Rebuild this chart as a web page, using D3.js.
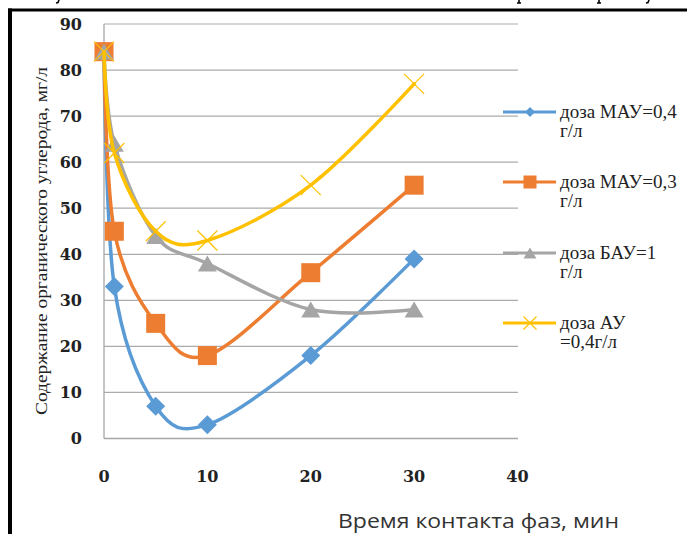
<!DOCTYPE html>
<html>
<head>
<meta charset="utf-8">
<script src="https://cdn.jsdelivr.net/npm/d3@7"></script>
<style>
  html, body { margin: 0; padding: 0; background: #fff; }
  svg { display: block; }
</style>
</head>
<body>
<svg id="chart" width="687" height="534"></svg>
<script>
// ---- data ----
const times = [0, 1, 5, 10, 20, 30];
const mau04 = [84, 33, 7, 3, 18, 39];
const mau03 = [84, 45, 25, 18, 36, 55];
const bau1  = [84, 64, 44, 38, 28, 28];
const au04  = [84, 62, 45, 43, 55, 77];
const legendLabels = [["доза МАУ=0,4", "г/л"], ["доза МАУ=0,3", "г/л"], ["доза БАУ=1", "г/л"], ["доза АУ", "=0,4г/л"]];
const yTicks = [0, 10, 20, 30, 40, 50, 60, 70, 80, 90];
const xTicks = [0, 10, 20, 30, 40];
const yTitle = "Содержание органического углерода, мг/л";
const xTitle = "Время контакта фаз, мин";

const seriesValues = [mau04, mau03, bau1, au04];
const colors = ["#5B9BD5", "#ED7D31", "#A5A5A5", "#FFC000"];
const markerTypes = ["diamond", "square", "triangle", "x"];

const svg = d3.select("#chart");
const x = d3.scaleLinear().domain([0, 40]).range([104, 517.5]);
const y = d3.scaleLinear().domain([0, 90]).range([438.5, 24]);

// clipped glyph descenders from the page above (drawn as small strokes)
const frag = svg.append("g").attr("stroke", "#000").attr("stroke-width", 1.6).attr("fill", "none");
[[58, "y"], [519, "p"], [599, "p"], [648, "y"]].forEach(d => {
  if (d[1] === "p") frag.append("path").attr("d", `M${d[0]},0L${d[0]},3M${d[0] - 2},3L${d[0] + 2},3`);
  else frag.append("path").attr("d", `M${d[0] + 1},0L${d[0]},2.5L${d[0] - 2},3`);
});

// frame borders
svg.append("line").attr("x1", 8).attr("x2", 687).attr("y1", 10).attr("y2", 10).attr("stroke", "#000").attr("stroke-width", 3);
svg.append("line").attr("x1", 10).attr("x2", 10).attr("y1", 8.5).attr("y2", 534).attr("stroke", "#000").attr("stroke-width", 4);

// gridlines
svg.append("g").selectAll("line").data(yTicks.filter(d => d > 0)).join("line")
  .attr("x1", x(0)).attr("x2", 518).attr("y1", d => y(d)).attr("y2", d => y(d))
  .attr("stroke", "#ABABAB").attr("stroke-width", 1.2);
// axes lines
svg.append("line").attr("x1", x(0)).attr("x2", 518).attr("y1", y(0)).attr("y2", y(0)).attr("stroke", "#A6A6A6").attr("stroke-width", 1.3);
svg.append("line").attr("x1", x(0)).attr("x2", x(0)).attr("y1", y(90)).attr("y2", y(0)).attr("stroke", "#A6A6A6").attr("stroke-width", 1.3);

// tick labels
const tickFont = "'DejaVu Serif', serif";
svg.append("g").selectAll("text").data(yTicks).join("text")
  .attr("x", 82).attr("y", d => y(d)).attr("dy", "0.36em").attr("text-anchor", "end")
  .attr("font-family", tickFont).attr("font-size", 16).attr("font-weight", "bold").attr("fill", "#222")
  .text(d => d);
svg.append("g").selectAll("text").data(xTicks).join("text")
  .attr("x", d => x(d)).attr("y", 482).attr("text-anchor", "middle")
  .attr("font-family", tickFont).attr("font-size", 16).attr("font-weight", "bold").attr("fill", "#222")
  .text(d => d);

// axis titles
svg.append("text").attr("transform", "translate(47,241) rotate(-90)").attr("text-anchor", "middle")
  .attr("font-family", "'Liberation Serif', serif").attr("font-size", 16).attr("fill", "#222")
  .attr("textLength", 348).attr("lengthAdjust", "spacingAndGlyphs")
  .text(yTitle);
svg.append("text").attr("x", 338).attr("y", 528)
  .attr("font-family", "'Open Sans', sans-serif").attr("font-size", 20).attr("fill", "#333")
  .attr("textLength", 281).attr("lengthAdjust", "spacingAndGlyphs")
  .text(xTitle);

// marker drawing
function drawMarker(g, type, cx, cy, color, s) {
  if (type === "diamond") {
    g.append("path").attr("d", `M${cx},${cy - s / 2}L${cx + s / 2},${cy}L${cx},${cy + s / 2}L${cx - s / 2},${cy}Z`).attr("fill", color);
  } else if (type === "square") {
    g.append("rect").attr("x", cx - s / 2).attr("y", cy - s / 2).attr("width", s).attr("height", s).attr("fill", color);
  } else if (type === "triangle") {
    const h = s * 0.85;
    g.append("path").attr("d", `M${cx},${cy - h / 2}L${cx + s / 2},${cy + h / 2}L${cx - s / 2},${cy + h / 2}Z`).attr("fill", color);
  } else {
    const r = s / 2;
    g.append("path").attr("d", `M${cx - r},${cy - r}L${cx + r},${cy + r}M${cx - r},${cy + r}L${cx + r},${cy - r}`)
      .attr("stroke", color).attr("stroke-width", 1.2).attr("fill", "none");
  }
}

const line = d3.line().x(d => x(d[0])).y(d => y(d[1])).curve(d3.curveCardinal.tension(0));
const markerSize = [19, 19, 19, 20];

seriesValues.forEach((vals, i) => {
  const g = svg.append("g");
  const pts = times.map((t, j) => [t, vals[j]]);
  g.append("path").attr("d", line(pts)).attr("fill", "none").attr("stroke", colors[i])
    .attr("stroke-width", 3.5).attr("stroke-linecap", "round").attr("stroke-linejoin", "round");
  pts.forEach(p => drawMarker(g, markerTypes[i], x(p[0]), y(p[1]), colors[i], markerSize[i]));
});

// legend
const legendY = [112, 182, 253, 323];
const legendMarkerSize = [10, 13, 13, 13];
legendLabels.forEach((lab, i) => {
  const g = svg.append("g");
  const ly = legendY[i];
  g.append("line").attr("x1", 503).attr("x2", 556).attr("y1", ly).attr("y2", ly).attr("stroke", colors[i]).attr("stroke-width", 3);
  drawMarker(g, markerTypes[i], 530, ly, colors[i], legendMarkerSize[i]);
  g.append("text").attr("x", 560).attr("y", ly + 6)
    .attr("font-family", "'Liberation Serif', serif").attr("font-size", 19).attr("fill", "#222")
    .text(lab[0]);
  g.append("text").attr("x", 560).attr("y", ly + 25)
    .attr("font-family", "'Liberation Serif', serif").attr("font-size", 19).attr("fill", "#222")
    .text(lab[1]);
});
</script>
</body>
</html>
